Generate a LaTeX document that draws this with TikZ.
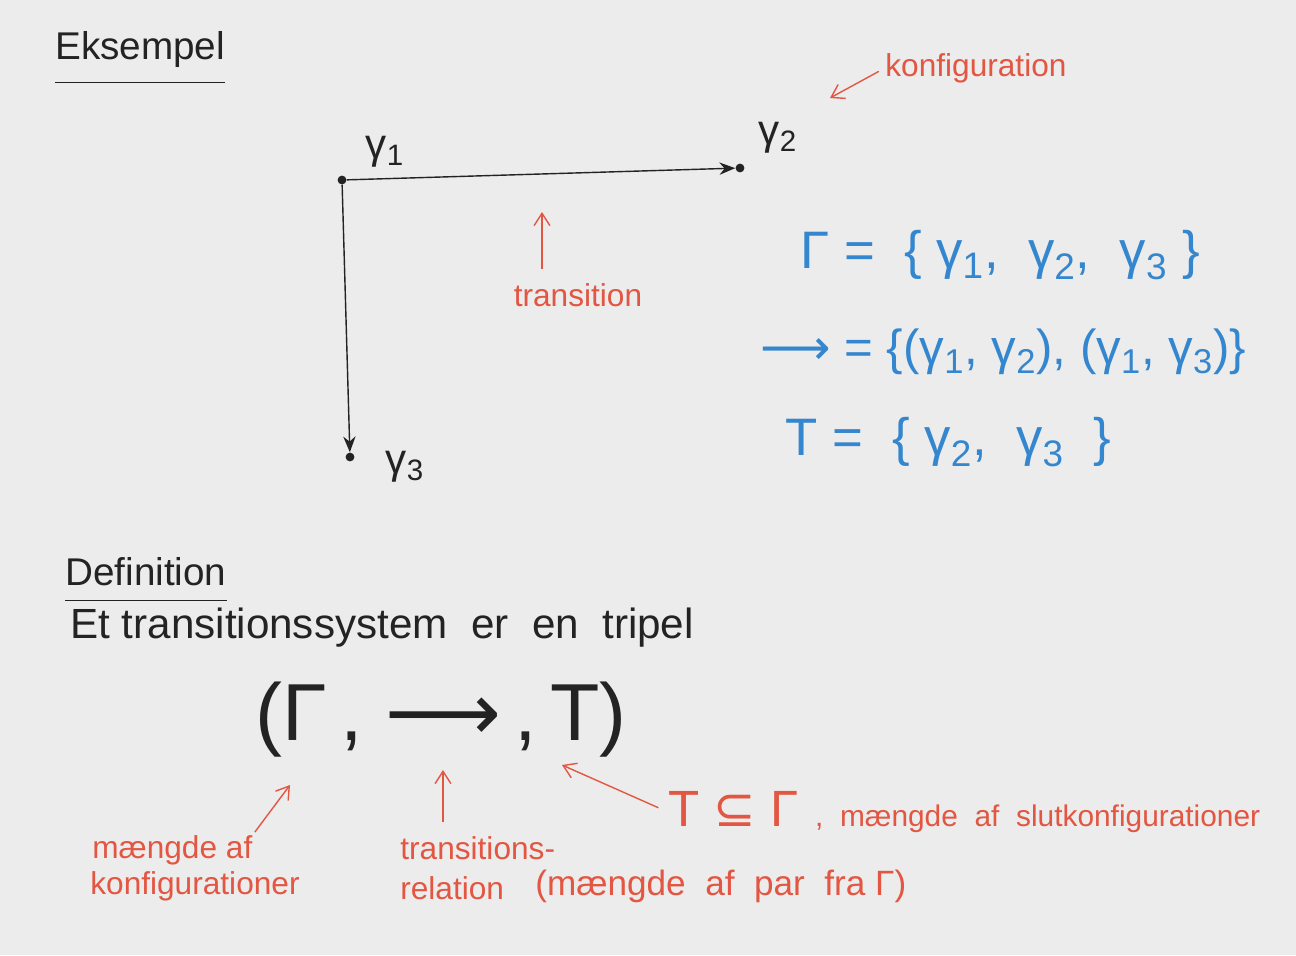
\documentclass[tikz,border=0pt]{standalone}
\usepackage{fontspec}
\setmainfont{Liberation Sans}
\newfontfamily\symfont{DejaVu Sans}
\usetikzlibrary{arrows.meta}
\definecolor{paper}{RGB}{236,236,236}
\definecolor{ink}{RGB}{35,35,35}
\definecolor{notered}{RGB}{226,86,66}
\definecolor{setblue}{RGB}{52,134,206}
\newcommand{\gsub}[1]{γ\textsubscript{#1}}
\newcommand{\longarr}{{\symfont ⟶}}
\tikzset{
    hand/.style={text=ink, font=\fontsize{22}{26}\selectfont, inner sep=0pt, anchor=west},
    note/.style={text=notered, font=\fontsize{18}{23}\selectfont, inner sep=0pt, anchor=west},
    setline/.style={text=setblue, font=\fontsize{30}{32}\selectfont, inner sep=0pt, anchor=west},
    state/.style={circle, fill=ink, inner sep=0pt, minimum size=5pt},
    statelabel/.style={text=ink, font=\fontsize{24}{26}\selectfont, inner sep=0pt},
    trans/.style={draw=ink, thick, -{Stealth[length=9pt, width=7pt]}},
    noteline/.style={draw=notered, thick, -{Straight Barb[length=7pt, width=9pt]}},
    underline/.style={draw=ink, thick}
}

\begin{document}
\begin{tikzpicture}[x=0.2mm, y=-0.2mm]
    \fill[paper] (0,0) rectangle (1296,955);
    \useasboundingbox (0,0) rectangle (1296,955);

    % example
    \node (eks) [hand] at (55,50) {Eksempel};
    \draw [underline] ([yshift=-8pt]eks.south west) -- ([yshift=-8pt]eks.south east);

    \node (g1) [state] at (342,180) {};
    \node (g2) [state] at (740,168) {};
    \node (g3) [state] at (350,457) {};
    \node (g1lab) [statelabel] at (385,152) {\gsub{1}};
    \node (g2lab) [statelabel] at (778,138) {\gsub{2}};
    \node (g3lab) [statelabel] at (405,467) {\gsub{3}};

    \draw [trans] (g1) -- (g2);
    \draw [trans] (g1) -- (g3);

    \node (konf) [note] at (885,68) {konfiguration};
    \coordinate (konftip) at (830,98);
    \draw [noteline, shorten <=4pt] (konf.west) -- (konftip);

    \node (trnote) [note, anchor=center] at (578,295) {transition};
    \coordinate (trtip) at (542,212);
    \draw [noteline, shorten <=8pt] (trnote.north -| trtip) -- (trtip);

    \node (gamset) [setline] at (800,255) {Γ\ =\ \ \{\ \gsub{1},\ \ \gsub{2},\ \ \gsub{3}\ \}};
    \node (relset) [setline, font=\fontsize{28}{30}\selectfont] at (760,352) {\longarr\ = \{(\gsub{1}, \gsub{2}), (\gsub{1}, \gsub{3})\}};
    \node (endset) [setline] at (785,442) {T\ =\ \ \{\ \gsub{2},\ \ \gsub{3}\ \ \}};

    % definition
    \node (def) [hand] at (65,572) {Definition};
    \draw [underline] ([yshift=-8pt]def.south west) -- ([yshift=-8pt]def.south east);
    \node (tripeltxt) [hand, font=\fontsize{24}{28}\selectfont] at (70,628) {Et transitionssystem\ \ er\ \ en\ \ tripel};
    \node (tripel) [hand, font=\fontsize{46}{50}\selectfont] at (255,720)
        {(Γ\,,\ \longarr\,,\,T)};

    \coordinate (gamtip) at (290,785);
    \coordinate (reltip) at (443,770);
    \coordinate (endtip) at (562,765);

    \node (mgd) [note] at (92,850) {mængde af};
    \node (konfs) [note] at (90,886) {konfigurationer};
    \draw [noteline, shorten <=2pt] (mgd.north east) -- (gamtip);

    \node (trrel) [note, align=left] at (400,868) {transitions-\\relation};
    \draw [noteline, shorten <=8pt] (trrel.north -| reltip) -- (reltip);

    \node (endnote) [note, font=\fontsize{17}{22}\selectfont] at (668,812)
        {{\fontsize{29}{32}\selectfont T {\symfont ⊆} Γ}\ \ ,\ \ mængde\ \ af\ \ slutkonfigurationer};
    \draw [noteline, shorten <=6pt] (endnote.west) -- (endtip);
    \node (parnote) [note, font=\fontsize{20}{24}\selectfont] at (535,886) {(mængde\ \ af\ \ par\ \ fra Γ)};
\end{tikzpicture}
\end{document}
